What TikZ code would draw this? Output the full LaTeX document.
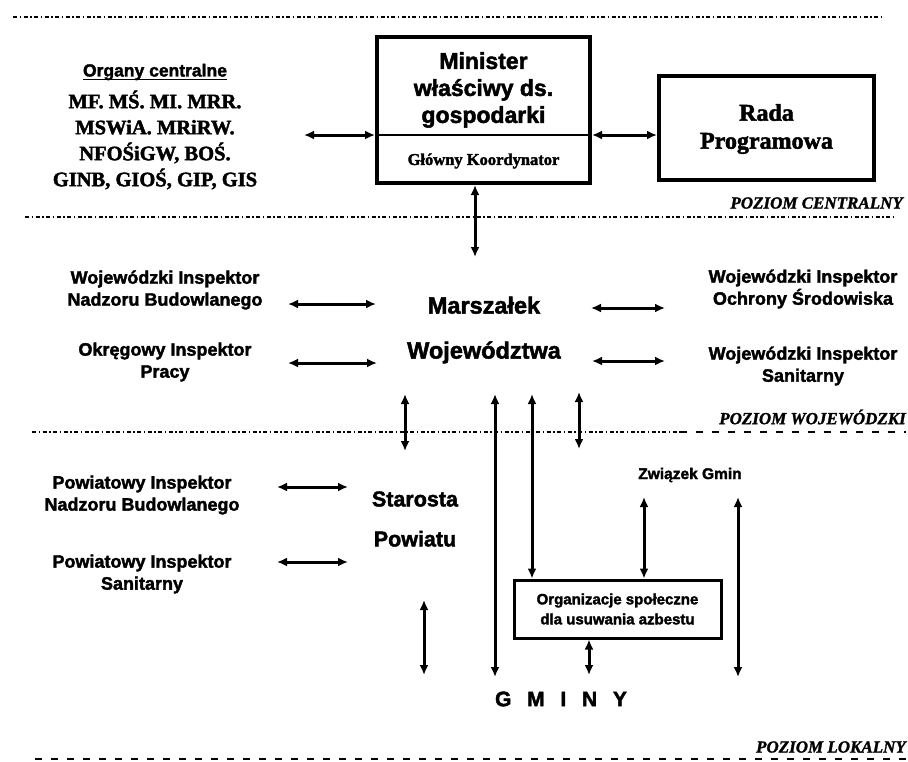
\documentclass[tikz,border=0pt]{standalone}
\usepackage{fontspec}
\setmainfont{Liberation Serif}[BoldFeatures={FakeBold=2}, BoldItalicFeatures={FakeBold=1.5}]
\setsansfont{Liberation Sans}[BoldFeatures={FakeBold=2}]
\usetikzlibrary{arrows.meta}
\begin{document}
\begin{tikzpicture}[x=1pt,y=-1pt,
  arr/.style={{Latex[length=10pt,width=9pt]}-{Latex[length=10pt,width=9pt]}, line width=3pt},
  dd/.style={line width=1.8pt, dash pattern=on 4pt off 2.5pt on 1.5pt off 2.5pt},
  dsh/.style={line width=2pt, dash pattern=on 7pt off 9pt},
  thickbox/.style={draw, line width=4pt, inner sep=0pt},
  sb/.style={align=center, inner sep=0pt, font=\sffamily\bfseries\fontsize{18}{22}\selectfont},
  big/.style={align=center, inner sep=0pt, font=\sffamily\bfseries\fontsize{23}{27}\selectfont},
  serb/.style={align=center, inner sep=0pt, font=\rmfamily\bfseries\fontsize{20.5}{26}\selectfont},
  lvl/.style={anchor=east, inner sep=0pt, font=\rmfamily\bfseries\itshape\fontsize{17}{20}\selectfont}
]
\useasboundingbox (0,0) rectangle (908,761);

% level separator lines
\draw[dd] (13,17) -- (883,17);
\draw[dd] (25,217) -- (893,217);
\draw[dd] (32,432) -- (680,432);
\draw[dsh] (680,432) -- (906,432);
\draw[dsh] (35,759) -- (906,759);

% central level
\node[sb, font=\sffamily\bfseries\fontsize{17.5}{20}\selectfont] (orgc) at (155,72) {Organy centralne};
\draw[line width=1.8pt] ([yshift=-3pt]orgc.base west) -- ([yshift=-3pt]orgc.base east);
\node[serb] (organs) at (155,140) {MF. MŚ. MI. MRR.\\MSWiA. MRiRW.\\NFOŚiGW, BOŚ.\\GINB, GIOŚ, GIP, GIS};

\node[thickbox, minimum width=213pt, minimum height=146pt] (mbox) at (483.5,110) {};
\node[big, font=\sffamily\bfseries\fontsize{23}{27}\selectfont] (mtext) at (483.5,90) {Minister\\właściwy ds.\\gospodarki};
\node[inner sep=0pt, font=\rmfamily\bfseries\fontsize{16.5}{20}\selectfont] (gk) at (483.5,161) {Główny Koordynator};

\node[thickbox, minimum width=215pt, minimum height=104pt] (rada) at (766.5,128) {};
\node[align=center, inner sep=0pt, font=\rmfamily\bfseries\fontsize{24}{28}\selectfont] (radat) at (766.5,129) {Rada\\Programowa};

\coordinate (lv) at (304,135);
\draw[line width=1.2pt] (lv -| mbox.west) -- (lv -| mbox.east);
\draw[arr] (lv) -- (lv -| mbox.west);
\draw[arr] (lv -| mbox.east) -- (lv -| rada.west);

\node[lvl] (pc) at (903,203) {POZIOM CENTRALNY};

\coordinate (a3e) at (475,257);
\draw[arr] (a3e |- mbox.south) -- (a3e);

% voivodeship level
\node[sb] (winb) at (165,290) {Wojewódzki Inspektor\\Nadzoru Budowlanego};
\node[sb] (oip) at (165,362) {Okręgowy Inspektor\\Pracy};
\node[big, font=\sffamily\bfseries\fontsize{23.5}{45}\selectfont] (marsz) at (484,330) {Marszałek\\Województwa};
\node[sb] (wios) at (803,289) {Wojewódzki Inspektor\\Ochrony Środowiska};
\node[sb] (wis) at (803,366) {Wojewódzki Inspektor\\Sanitarny};
\node[lvl] (pw) at (906,417) {POZIOM WOJEWÓDZKI};

\coordinate (a4s) at (288,304); \coordinate (a4e) at (376,304);
\coordinate (a5s) at (288,363); \coordinate (a5e) at (377,363);
\coordinate (a6s) at (591,308); \coordinate (a6e) at (665,308);
\coordinate (a7s) at (592,361); \coordinate (a7e) at (665,361);
\draw[arr] (a4s) -- (a4e);
\draw[arr] (a5s) -- (a5e);
\draw[arr] (a6s) -- (a6e);
\draw[arr] (a7s) -- (a7e);

% local level
\node[sb] (pinb) at (142,495) {Powiatowy Inspektor\\Nadzoru Budowlanego};
\node[sb] (pis) at (142,574) {Powiatowy Inspektor\\Sanitarny};
\node[big, font=\sffamily\bfseries\fontsize{21.5}{40}\selectfont] (star) at (415,519) {Starosta\\Powiatu};
\node[sb, font=\sffamily\bfseries\fontsize{15.5}{18}\selectfont] (zg) at (690,475) {Związek Gmin};
\node[draw, line width=3pt, minimum width=207pt, minimum height=58pt, sb,
      font=\sffamily\bfseries\fontsize{15}{20}\selectfont] (orgbox) at (617.5,609) {Organizacje społeczne\\dla usuwania azbestu};
\node[inner sep=0pt, font=\sffamily\bfseries\fontsize{21}{25}\selectfont] (gminy) at (561,699)
  {G\hspace{0.75em}M\hspace{0.75em}I\hspace{0.75em}N\hspace{0.75em}Y};
\node[lvl] (pl) at (906,747) {POZIOM LOKALNY};

\coordinate (a8s) at (405,394); \coordinate (a8e) at (405,451);
\coordinate (a9s) at (495,394); \coordinate (a9e) at (495,677);
\coordinate (a10s) at (532,394);
\coordinate (a11s) at (579,392); \coordinate (a11e) at (579,449);
\coordinate (a12s) at (277,487); \coordinate (a12e) at (348,487);
\coordinate (a13s) at (277,562); \coordinate (a13e) at (348,562);
\coordinate (a14s) at (424,600); \coordinate (a14e) at (424,675);
\coordinate (a15s) at (644,497);
\coordinate (a16s) at (738,497); \coordinate (a16e) at (738,677);
\coordinate (a17e) at (589,675);
\draw[arr] (a8s) -- (a8e);
\draw[arr] (a9s) -- (a9e);
\draw[arr] (a10s) -- (a10s |- orgbox.north);
\draw[arr] (a11s) -- (a11e);
\draw[arr] (a12s) -- (a12e);
\draw[arr] (a13s) -- (a13e);
\draw[arr] (a14s) -- (a14e);
\draw[arr] (a15s) -- (a15s |- orgbox.north);
\draw[arr] (a16s) -- (a16e);
\draw[arr] (a17e |- orgbox.south) -- (a17e);
\end{tikzpicture}
\end{document}
